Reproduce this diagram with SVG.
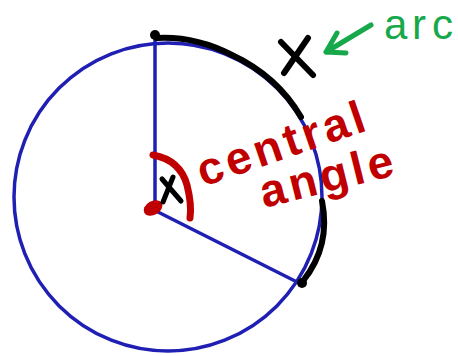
<svg xmlns="http://www.w3.org/2000/svg" width="458" height="356" viewBox="0 0 458 356">
<style>
.blue{fill:none;stroke:#1f1fb4;stroke-width:3.5;stroke-linecap:round}
.ink{fill:none;stroke:#000;stroke-width:6;stroke-linecap:round;stroke-linejoin:round}
.red{fill:none;stroke:#c00000;stroke-width:7;stroke-linecap:round}
.redt{fill:#c00000;font-family:"Liberation Sans",Arial,sans-serif;font-weight:bold}
.green{fill:none;stroke:#16a84a;stroke-width:5;stroke-linecap:round;stroke-linejoin:round}
</style>
<rect width="458" height="356" fill="#fff"/>
<g id="circle">
<circle class="blue" cx="168" cy="197" r="154"/>
</g>
<g id="radii">
<path class="blue" d="M155,38 L155,210"/>
<path class="blue" d="M158,212 L301,284"/>
</g>
<g id="arc">
<path class="ink" d="M157,38 Q195,36 232,55 Q277,76 301,117"/>
<path class="ink" d="M322,201 Q331,246 303,281"/>
<circle cx="155" cy="35" r="5" fill="#000"/>
<circle cx="302" cy="283" r="5" fill="#000"/>
<path class="ink" d="M281,42 L313,75 M308,38 L284,73"/>
</g>
<g id="center">
<ellipse cx="153" cy="208" rx="10" ry="7" transform="rotate(-30 153 208)" fill="#c00000"/>
<path class="ink" d="M162,179 L181,201 M173,177 L163,202" style="stroke-width:5"/>
<path class="red" d="M153,155 Q180,160 187,185 Q192,205 190,218"/>
</g>
<g id="labels">
<text class="redt" font-size="46" transform="translate(203,187) rotate(-19)" letter-spacing="4">central</text>
<text class="redt" font-size="46" transform="translate(264,208) rotate(-14)" letter-spacing="4">angle</text>
<path class="green" d="M371,25 L326,52 M337,33 L326,52 L346,53"/>
<text y="39" font-size="42" fill="#16a84a" font-family="Liberation Sans,Arial,sans-serif"><tspan x="384">a</tspan><tspan x="412">r</tspan><tspan x="432">c</tspan></text>
</g>
</svg>
